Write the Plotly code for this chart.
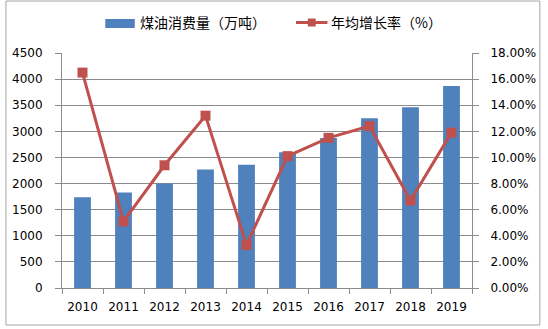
import plotly.graph_objects as go

# Kerosene consumption and annual growth rate, 2010-2019
years = ["2010", "2011", "2012", "2013", "2014", "2015", "2016", "2017", "2018", "2019"]
consumption = [1740, 1830, 2000, 2270, 2360, 2600, 2870, 3250, 3460, 3870]  # 万吨
growth_rate = [0.165, 0.051, 0.094, 0.132, 0.033, 0.101, 0.115, 0.124, 0.067, 0.119]

bar_name = "煤油消费量（万吨）"
line_name = "年均增长率（%）"

W, H = 548, 329
M_L, M_R, M_T, M_B = 59, 72, 53, 41
PW, PH = W - M_L - M_R, H - M_T - M_B

BLUE = "#4F81BD"
RED = "#C0504D"
GRID = "#8C8C8C"
TICK_FONT = dict(family="DejaVu Sans", size=12, color="#000000")
CJK = "Noto Sans CJK SC"


def px_x(x):
    return (x - M_L) / PW


def px_y(y):
    return (H - M_B - y) / PH


fig = go.Figure()
fig.add_trace(go.Bar(
    x=years, y=consumption, name=bar_name,
    marker=dict(color=BLUE, line=dict(width=0)),
    width=0.41, yaxis="y", showlegend=False,
))
fig.add_trace(go.Scatter(
    x=years, y=growth_rate, name=line_name, mode="lines+markers",
    line=dict(color=RED, width=3),
    marker=dict(symbol="square", size=10, color=RED),
    yaxis="y2", showlegend=False,
))

shapes = [
    # outer chart frame
    dict(type="rect", xref="paper", yref="paper",
         x0=px_x(2), x1=px_x(545), y0=px_y(325), y1=px_y(1),
         line=dict(color="#A6A6A6", width=1), fillcolor="rgba(0,0,0,0)", layer="below"),
    # legend swatches
    dict(type="rect", xref="paper", yref="paper",
         x0=px_x(103), x1=px_x(133), y0=px_y(28), y1=px_y(19),
         line=dict(width=0), fillcolor=BLUE),
    dict(type="line", xref="paper", yref="paper",
         x0=px_x(297), x1=px_x(329), y0=px_y(22.5), y1=px_y(22.5),
         line=dict(color=RED, width=3)),
    dict(type="rect", xref="paper", yref="paper",
         x0=px_x(309), x1=px_x(317), y0=px_y(26.5), y1=px_y(18.5),
         line=dict(width=0), fillcolor=RED),
]

annotations = [
    dict(text=bar_name, xref="paper", yref="paper", x=px_x(136), y=px_y(22.5),
         xanchor="left", yanchor="middle", showarrow=False,
         font=dict(family=CJK, size=14, color="#000000")),
    dict(text=line_name, xref="paper", yref="paper", x=px_x(331), y=px_y(22.5),
         xanchor="left", yanchor="middle", showarrow=False,
         font=dict(family=CJK, size=14, color="#000000")),
]

fig.update_layout(
    width=W, height=H,
    margin=dict(l=M_L, r=M_R, t=M_T, b=M_B, pad=0),
    paper_bgcolor="#FFFFFF", plot_bgcolor="#FFFFFF",
    bargap=0.59,
    shapes=shapes, annotations=annotations,
    xaxis=dict(
        type="category", range=[-0.5, len(years) - 0.5], tickfont=TICK_FONT,
        showline=True, linecolor=GRID, linewidth=1,
        ticks="outside", tickson="boundaries", ticklen=5, tickcolor=GRID,
        ticklabelstandoff=8,
        showgrid=False, zeroline=False,
    ),
    yaxis=dict(
        range=[0, 4500], dtick=500, tickfont=TICK_FONT,
        showline=True, linecolor=GRID, linewidth=1,
        ticks="outside", ticklen=6, tickcolor=GRID, ticklabelstandoff=10,
        showgrid=True, gridcolor=GRID, gridwidth=1, zeroline=False,
    ),
    yaxis2=dict(
        range=[0, 0.18], dtick=0.02, tickformat=".2%", tickfont=TICK_FONT,
        overlaying="y", side="right",
        showline=True, linecolor=GRID, linewidth=1,
        ticks="outside", ticklen=6, tickcolor=GRID, ticklabelstandoff=9,
        showgrid=False, zeroline=False,
    ),
)

fig.write_html("out.html")
